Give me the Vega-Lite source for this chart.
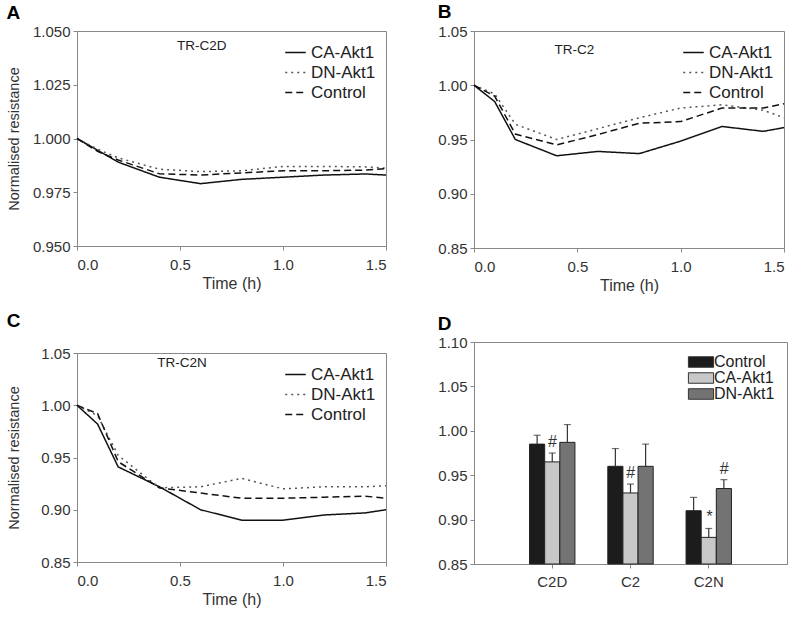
{
  "$schema": "https://vega.github.io/schema/vega-lite/v6.json",
  "background": "white",
  "padding": {"left": 5, "top": 2, "right": 5, "bottom": 5},
  "config": {
    "font": "Liberation Sans",
    "view": {"stroke": "#888", "strokeWidth": 1},
    "axis": {"domainColor": "#888", "tickColor": "#888", "labelColor": "#333", "titleColor": "#333", "labelFontSize": 15, "titleFontSize": 16, "titleFontWeight": "normal", "grid": false, "tickSize": 4, "labelPadding": 3},
    "axisX": {"labelPadding": 7, "titlePadding": 3},
    "axisY": {"titleFontSize": 14.5},
    "legend": {"labelFontSize": 17, "labelColor": "#222"},
    "title": {"fontSize": 19, "fontWeight": "bold", "anchor": "start", "frame": "bounds", "color": "#000", "offset": 1}
  },
  "datasets": {
    "lines": [
      {"p": "A", "s": "CA-Akt1", "t": 0, "v": 1.0},
      {"p": "A", "s": "CA-Akt1", "t": 0.1, "v": 0.9945},
      {"p": "A", "s": "CA-Akt1", "t": 0.2, "v": 0.989},
      {"p": "A", "s": "CA-Akt1", "t": 0.4, "v": 0.982},
      {"p": "A", "s": "CA-Akt1", "t": 0.6, "v": 0.979},
      {"p": "A", "s": "CA-Akt1", "t": 0.8, "v": 0.981},
      {"p": "A", "s": "CA-Akt1", "t": 1.0, "v": 0.982},
      {"p": "A", "s": "CA-Akt1", "t": 1.2, "v": 0.983},
      {"p": "A", "s": "CA-Akt1", "t": 1.4, "v": 0.9835},
      {"p": "A", "s": "CA-Akt1", "t": 1.5, "v": 0.983},
      {"p": "A", "s": "DN-Akt1", "t": 0, "v": 1.0},
      {"p": "A", "s": "DN-Akt1", "t": 0.1, "v": 0.995},
      {"p": "A", "s": "DN-Akt1", "t": 0.2, "v": 0.991},
      {"p": "A", "s": "DN-Akt1", "t": 0.4, "v": 0.9857},
      {"p": "A", "s": "DN-Akt1", "t": 0.6, "v": 0.9846},
      {"p": "A", "s": "DN-Akt1", "t": 0.8, "v": 0.985},
      {"p": "A", "s": "DN-Akt1", "t": 1.0, "v": 0.987},
      {"p": "A", "s": "DN-Akt1", "t": 1.2, "v": 0.987},
      {"p": "A", "s": "DN-Akt1", "t": 1.4, "v": 0.9868},
      {"p": "A", "s": "DN-Akt1", "t": 1.5, "v": 0.9862},
      {"p": "A", "s": "Control", "t": 0, "v": 1.0},
      {"p": "A", "s": "Control", "t": 0.1, "v": 0.994},
      {"p": "A", "s": "Control", "t": 0.2, "v": 0.99},
      {"p": "A", "s": "Control", "t": 0.4, "v": 0.9836},
      {"p": "A", "s": "Control", "t": 0.6, "v": 0.983},
      {"p": "A", "s": "Control", "t": 0.8, "v": 0.984},
      {"p": "A", "s": "Control", "t": 1.0, "v": 0.985},
      {"p": "A", "s": "Control", "t": 1.2, "v": 0.985},
      {"p": "A", "s": "Control", "t": 1.4, "v": 0.9853},
      {"p": "A", "s": "Control", "t": 1.5, "v": 0.986},
      {"p": "B", "s": "CA-Akt1", "t": 0, "v": 1.0},
      {"p": "B", "s": "CA-Akt1", "t": 0.1, "v": 0.985},
      {"p": "B", "s": "CA-Akt1", "t": 0.2, "v": 0.95},
      {"p": "B", "s": "CA-Akt1", "t": 0.4, "v": 0.935},
      {"p": "B", "s": "CA-Akt1", "t": 0.6, "v": 0.939},
      {"p": "B", "s": "CA-Akt1", "t": 0.8, "v": 0.937},
      {"p": "B", "s": "CA-Akt1", "t": 1.0, "v": 0.9485},
      {"p": "B", "s": "CA-Akt1", "t": 1.2, "v": 0.962},
      {"p": "B", "s": "CA-Akt1", "t": 1.4, "v": 0.9575},
      {"p": "B", "s": "CA-Akt1", "t": 1.5, "v": 0.961},
      {"p": "B", "s": "DN-Akt1", "t": 0, "v": 1.0},
      {"p": "B", "s": "DN-Akt1", "t": 0.1, "v": 0.992},
      {"p": "B", "s": "DN-Akt1", "t": 0.2, "v": 0.964},
      {"p": "B", "s": "DN-Akt1", "t": 0.4, "v": 0.95},
      {"p": "B", "s": "DN-Akt1", "t": 0.6, "v": 0.96},
      {"p": "B", "s": "DN-Akt1", "t": 0.8, "v": 0.97},
      {"p": "B", "s": "DN-Akt1", "t": 1.0, "v": 0.979},
      {"p": "B", "s": "DN-Akt1", "t": 1.2, "v": 0.982},
      {"p": "B", "s": "DN-Akt1", "t": 1.4, "v": 0.977},
      {"p": "B", "s": "DN-Akt1", "t": 1.5, "v": 0.97},
      {"p": "B", "s": "Control", "t": 0, "v": 1.0},
      {"p": "B", "s": "Control", "t": 0.1, "v": 0.99},
      {"p": "B", "s": "Control", "t": 0.2, "v": 0.955},
      {"p": "B", "s": "Control", "t": 0.4, "v": 0.945},
      {"p": "B", "s": "Control", "t": 0.6, "v": 0.9546},
      {"p": "B", "s": "Control", "t": 0.8, "v": 0.965},
      {"p": "B", "s": "Control", "t": 1.0, "v": 0.9665},
      {"p": "B", "s": "Control", "t": 1.2, "v": 0.979},
      {"p": "B", "s": "Control", "t": 1.4, "v": 0.979},
      {"p": "B", "s": "Control", "t": 1.5, "v": 0.983},
      {"p": "C", "s": "CA-Akt1", "t": 0, "v": 1.0},
      {"p": "C", "s": "CA-Akt1", "t": 0.1, "v": 0.982},
      {"p": "C", "s": "CA-Akt1", "t": 0.2, "v": 0.941},
      {"p": "C", "s": "CA-Akt1", "t": 0.4, "v": 0.922},
      {"p": "C", "s": "CA-Akt1", "t": 0.6, "v": 0.9},
      {"p": "C", "s": "CA-Akt1", "t": 0.8, "v": 0.89},
      {"p": "C", "s": "CA-Akt1", "t": 1.0, "v": 0.89},
      {"p": "C", "s": "CA-Akt1", "t": 1.2, "v": 0.895},
      {"p": "C", "s": "CA-Akt1", "t": 1.4, "v": 0.897},
      {"p": "C", "s": "CA-Akt1", "t": 1.5, "v": 0.9},
      {"p": "C", "s": "DN-Akt1", "t": 0, "v": 1.0},
      {"p": "C", "s": "DN-Akt1", "t": 0.1, "v": 0.99},
      {"p": "C", "s": "DN-Akt1", "t": 0.2, "v": 0.952},
      {"p": "C", "s": "DN-Akt1", "t": 0.4, "v": 0.921},
      {"p": "C", "s": "DN-Akt1", "t": 0.6, "v": 0.922},
      {"p": "C", "s": "DN-Akt1", "t": 0.8, "v": 0.93},
      {"p": "C", "s": "DN-Akt1", "t": 1.0, "v": 0.92},
      {"p": "C", "s": "DN-Akt1", "t": 1.2, "v": 0.922},
      {"p": "C", "s": "DN-Akt1", "t": 1.4, "v": 0.922},
      {"p": "C", "s": "DN-Akt1", "t": 1.5, "v": 0.923},
      {"p": "C", "s": "Control", "t": 0, "v": 1.0},
      {"p": "C", "s": "Control", "t": 0.1, "v": 0.992},
      {"p": "C", "s": "Control", "t": 0.2, "v": 0.946},
      {"p": "C", "s": "Control", "t": 0.4, "v": 0.921},
      {"p": "C", "s": "Control", "t": 0.6, "v": 0.916},
      {"p": "C", "s": "Control", "t": 0.8, "v": 0.911},
      {"p": "C", "s": "Control", "t": 1.0, "v": 0.911},
      {"p": "C", "s": "Control", "t": 1.2, "v": 0.912},
      {"p": "C", "s": "Control", "t": 1.4, "v": 0.913},
      {"p": "C", "s": "Control", "t": 1.5, "v": 0.911}
    ],
    "bars": [
      {"cell": "C2D", "series": "Control", "v": 0.985, "e": 0.995, "sig": ""},
      {"cell": "C2D", "series": "CA-Akt1", "v": 0.965, "e": 0.975, "sig": "#"},
      {"cell": "C2D", "series": "DN-Akt1", "v": 0.987, "e": 1.007, "sig": ""},
      {"cell": "C2", "series": "Control", "v": 0.96, "e": 0.98, "sig": ""},
      {"cell": "C2", "series": "CA-Akt1", "v": 0.93, "e": 0.94, "sig": "#"},
      {"cell": "C2", "series": "DN-Akt1", "v": 0.96, "e": 0.985, "sig": ""},
      {"cell": "C2N", "series": "Control", "v": 0.91, "e": 0.925, "sig": ""},
      {"cell": "C2N", "series": "CA-Akt1", "v": 0.88, "e": 0.89, "sig": "*"},
      {"cell": "C2N", "series": "DN-Akt1", "v": 0.935, "e": 0.945, "sig": "#"}
    ]
  },
  "spacing": 47,
  "resolve": {"scale": {"color": "independent", "strokeDash": "independent", "fill": "independent"}, "legend": {"color": "independent", "strokeDash": "independent", "fill": "independent"}},
  "hconcat": [
    {
      "spacing": 19,
      "resolve": {"scale": {"color": "independent", "strokeDash": "independent", "fill": "independent"}, "legend": {"color": "independent", "strokeDash": "independent", "fill": "independent"}},
      "vconcat": [
        {
          "width": 309, "height": 215,
          "title": {"text": "A", "offset": 1},
          "layer": [
            {
              "data": {"name": "lines"},
              "transform": [{"filter": "datum.p === 'A'"}],
              "mark": {"type": "line", "strokeWidth": 1.5},
              "encoding": {
                "x": {"field": "t", "type": "quantitative", "scale": {"domain": [0, 1.5], "nice": false}, "axis": {"values": [0, 0.5, 1, 1.5], "format": ".1f", "title": "Time (h)"}},
                "y": {"field": "v", "type": "quantitative", "scale": {"domain": [0.95, 1.05], "zero": false, "nice": false}, "axis": {"values": [0.95, 0.975, 1.0, 1.025, 1.05], "format": ".3f", "title": "Normalised resistance", "titlePadding": 11}},
                "strokeDash": {"field": "s", "type": "nominal", "scale": {"domain": ["CA-Akt1", "DN-Akt1", "Control"], "range": [[1, 0], [2, 4], [7, 4]]}, "legend": {"title": null, "orient": "top-right", "offset": 10, "symbolType": "stroke", "symbolSize": 420, "symbolStrokeWidth": 1.6, "rowPadding": -1}},
                "color": {"field": "s", "type": "nominal", "scale": {"domain": ["CA-Akt1", "DN-Akt1", "Control"], "range": ["#111111", "#555555", "#111111"]}, "legend": {"title": null, "orient": "top-right", "offset": 10, "symbolType": "stroke", "symbolSize": 420, "symbolStrokeWidth": 1.6, "rowPadding": -1}}
              }
            },
            {
              "data": {"values": [{"t": 0.485, "v": 1.043, "label": "TR-C2D"}]},
              "mark": {"type": "text", "align": "left", "baseline": "middle", "fontSize": 13.5, "color": "#222"},
              "encoding": {
                "x": {"field": "t", "type": "quantitative"},
                "y": {"field": "v", "type": "quantitative"},
                "text": {"field": "label"}
              }
            }
          ]
        },
        {
          "width": 309, "height": 209,
          "title": {"text": "C", "offset": 15},
          "layer": [
            {
              "data": {"name": "lines"},
              "transform": [{"filter": "datum.p === 'C'"}],
              "mark": {"type": "line", "strokeWidth": 1.5},
              "encoding": {
                "x": {"field": "t", "type": "quantitative", "scale": {"domain": [0, 1.5], "nice": false}, "axis": {"values": [0, 0.5, 1, 1.5], "format": ".1f", "title": "Time (h)"}},
                "y": {"field": "v", "type": "quantitative", "scale": {"domain": [0.85, 1.05], "zero": false, "nice": false}, "axis": {"values": [0.85, 0.9, 0.95, 1.0, 1.05], "format": ".2f", "title": "Normalised resistance", "titlePadding": 19}},
                "strokeDash": {"field": "s", "type": "nominal", "scale": {"domain": ["CA-Akt1", "DN-Akt1", "Control"], "range": [[1, 0], [2, 4], [7, 4]]}, "legend": {"title": null, "orient": "top-right", "offset": 10, "symbolType": "stroke", "symbolSize": 420, "symbolStrokeWidth": 1.6, "rowPadding": -1}},
                "color": {"field": "s", "type": "nominal", "scale": {"domain": ["CA-Akt1", "DN-Akt1", "Control"], "range": ["#111111", "#555555", "#111111"]}, "legend": {"title": null, "orient": "top-right", "offset": 10, "symbolType": "stroke", "symbolSize": 420, "symbolStrokeWidth": 1.6, "rowPadding": -1}}
              }
            },
            {
              "data": {"values": [{"t": 0.39, "v": 1.04, "label": "TR-C2N"}]},
              "mark": {"type": "text", "align": "left", "baseline": "middle", "fontSize": 13.5, "color": "#222"},
              "encoding": {
                "x": {"field": "t", "type": "quantitative"},
                "y": {"field": "v", "type": "quantitative"},
                "text": {"field": "label"}
              }
            }
          ]
        }
      ]
    },
    {
      "spacing": 20,
      "resolve": {"scale": {"color": "independent", "strokeDash": "independent", "fill": "independent"}, "legend": {"color": "independent", "strokeDash": "independent", "fill": "independent"}},
      "vconcat": [
        {
          "width": 310, "height": 217,
          "title": {"text": "B", "offset": 2},
          "layer": [
            {
              "data": {"name": "lines"},
              "transform": [{"filter": "datum.p === 'B'"}],
              "mark": {"type": "line", "strokeWidth": 1.5},
              "encoding": {
                "x": {"field": "t", "type": "quantitative", "scale": {"domain": [0, 1.5], "nice": false}, "axis": {"values": [0, 0.5, 1, 1.5], "format": ".1f", "title": "Time (h)"}},
                "y": {"field": "v", "type": "quantitative", "scale": {"domain": [0.85, 1.05], "zero": false, "nice": false}, "axis": {"values": [0.85, 0.9, 0.95, 1.0, 1.05], "format": ".2f", "title": null}},
                "strokeDash": {"field": "s", "type": "nominal", "scale": {"domain": ["CA-Akt1", "DN-Akt1", "Control"], "range": [[1, 0], [2, 4], [7, 4]]}, "legend": {"title": null, "orient": "top-right", "offset": 10, "symbolType": "stroke", "symbolSize": 420, "symbolStrokeWidth": 1.6, "rowPadding": -1}},
                "color": {"field": "s", "type": "nominal", "scale": {"domain": ["CA-Akt1", "DN-Akt1", "Control"], "range": ["#111111", "#555555", "#111111"]}, "legend": {"title": null, "orient": "top-right", "offset": 10, "symbolType": "stroke", "symbolSize": 420, "symbolStrokeWidth": 1.6, "rowPadding": -1}}
              }
            },
            {
              "data": {"values": [{"t": 0.39, "v": 1.0325, "label": "TR-C2"}]},
              "mark": {"type": "text", "align": "left", "baseline": "middle", "fontSize": 13.5, "color": "#222"},
              "encoding": {
                "x": {"field": "t", "type": "quantitative"},
                "y": {"field": "v", "type": "quantitative"},
                "text": {"field": "label"}
              }
            }
          ]
        },
        {
          "width": 313, "height": 222,
          "title": {"text": "D", "offset": 1},
          "data": {"name": "bars"},
          "encoding": {
            "x": {"field": "cell", "type": "nominal", "sort": ["C2D", "C2", "C2N"], "scale": {"paddingInner": 0.42, "paddingOuter": 0.71}, "axis": {"title": null, "labelAngle": 0, "labelPadding": 6}},
            "xOffset": {"field": "series", "type": "nominal", "sort": ["Control", "CA-Akt1", "DN-Akt1"], "scale": {"paddingInner": 0, "paddingOuter": 0}}
          },
          "layer": [
            {
              "mark": {"type": "bar", "stroke": "#222", "strokeWidth": 1},
              "encoding": {
                "y": {"field": "v", "type": "quantitative", "title": null, "scale": {"domain": [0.85, 1.1], "zero": false, "nice": false}, "axis": {"values": [0.85, 0.9, 0.95, 1.0, 1.05, 1.1], "format": ".2f"}},
                "y2": {"datum": 0.85},
                "fill": {"field": "series", "type": "nominal", "scale": {"domain": ["Control", "CA-Akt1", "DN-Akt1"], "range": ["#1c1c1c", "#c8c8c8", "#737373"]}, "legend": {"title": null, "orient": "top-right", "offset": 12, "symbolType": "M-1.8,-0.75H1.8V0.75H-1.8Z", "symbolSize": 196, "symbolStrokeColor": "#333", "symbolStrokeWidth": 1, "rowPadding": -4, "labelOffset": 5, "labelFontSize": 16}}
              }
            },
            {
              "mark": {"type": "rule", "color": "#333", "strokeWidth": 1.2},
              "encoding": {
                "y": {"field": "v", "type": "quantitative", "title": null},
                "y2": {"field": "e"}
              }
            },
            {
              "mark": {"type": "tick", "color": "#333", "size": 7, "thickness": 1.2},
              "encoding": {
                "y": {"field": "e", "type": "quantitative", "title": null}
              }
            },
            {
              "transform": [{"filter": "datum.sig !== ''"}],
              "mark": {"type": "text", "baseline": "bottom", "dy": -3, "fontSize": 16, "fontStyle": "italic", "color": "#333"},
              "encoding": {
                "y": {"field": "e", "type": "quantitative", "title": null},
                "text": {"field": "sig"}
              }
            }
          ]
        }
      ]
    }
  ]
}
